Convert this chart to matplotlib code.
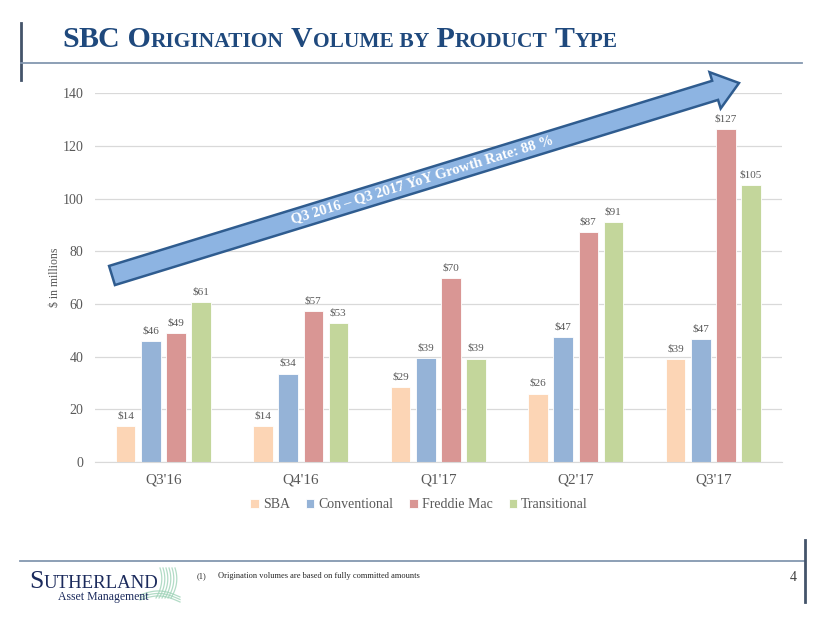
import numpy as np
import matplotlib
matplotlib.use("Agg")
import matplotlib.pyplot as plt
from matplotlib.patches import Polygon

# data
quarters = ["Q3'16", "Q4'16", "Q1'17", "Q2'17", "Q3'17"]
products = ["SBA", "Conventional", "Freddie Mac", "Transitional"]
sba = [13.6, 13.7, 28.6, 26.0, 39.0]
conventional = [45.9, 33.6, 39.4, 47.4, 46.7]
freddie_mac = [48.8, 57.4, 69.7, 87.2, 126.6]
transitional = [60.7, 52.6, 39.3, 91.0, 105.1]
series = [sba, conventional, freddie_mac, transitional]
colors = ["#FCD5B5", "#95B3D7", "#D99694", "#C3D69B"]
yticks = [0, 20, 40, 60, 80, 100, 120, 140]

title_parts = [("S", 21.5), ("BC", 21.5), (" O", 21.5), ("RIGINATION", 15.5),
               (" V", 21.5), ("OLUME", 15.5), (" BY", 15.5), (" P", 21.5),
               ("RODUCT", 15.5), (" T", 21.5), ("YPE", 15.5)]
arrow_text = "Q3 2016 \u2013 Q3 2017 YoY Growth Rate: 88 %"
footnote = "Origination volumes are based on fully committed amounts"

serif = "Liberation Serif"
gray = "#595959"
navy = "#1F497D"

fig = plt.figure(figsize=(8.3, 6.23), dpi=100)
ax = fig.add_axes([94.5 / 830, 1 - 462 / 623, (782 - 94.5) / 830, (462 - 93.3) / 623])

x = np.arange(len(quarters))
pitch = 0.182
width = 0.142
for i, (vals, name, c) in enumerate(zip(series, products, colors)):
    bars = ax.bar(x + (i - 1.5) * pitch, vals, width, color=c, label=name,
                  edgecolor="white", linewidth=0.6, zorder=2)
    ax.bar_label(bars, labels=["$%.0f" % v for v in vals], padding=4,
                 fontsize=8, color=gray, family=serif)

ax.set_xlim(-0.5, len(quarters) - 0.5)
ax.set_ylim(0, 140)
ax.set_yticks(yticks)
ax.set_xticks(x)
ax.set_xticklabels(quarters, fontsize=11, color=gray, family=serif)
ax.tick_params(axis="x", length=0, pad=8)
ax.tick_params(axis="y", length=0, pad=8, labelsize=10, labelcolor=gray)
for lab in ax.get_yticklabels():
    lab.set_family(serif)
ax.grid(axis="y", color="#D9D9D9", linewidth=0.9, zorder=0)
for s in ["top", "right", "left"]:
    ax.spines[s].set_visible(False)
ax.spines["bottom"].set_color("#D9D9D9")
ax.set_ylabel("$ in millions", fontsize=8.5, color=gray, family=serif, labelpad=1)

leg = fig.legend(loc="center", bbox_to_anchor=(0.505, 1 - 505 / 623), ncol=4,
                 frameon=False, prop={"family": serif, "size": 10},
                 handlelength=0.6, handleheight=0.6, handletextpad=0.3,
                 columnspacing=1.15, labelcolor=gray)

# overlay in pixel coordinates for the slide decorations
ov = fig.add_axes([0, 0, 1, 1], zorder=5)
ov.set_xlim(0, 830)
ov.set_ylim(623, 0)
ov.axis("off")
ov.patch.set_alpha(0)

# frame lines
ov.plot([21, 21], [23, 80], color="#44546A", lw=2)
ov.plot([21, 802], [63, 63], color="#8497B0", lw=1.3)
ov.plot([20, 805], [561, 561], color="#8497B0", lw=1.3)
ov.plot([805, 805], [540, 602], color="#44546A", lw=2)

# title in small caps
fig.canvas.draw()
renderer = fig.canvas.get_renderer()
tx = 62
for txt, size in title_parts:
    t = ov.text(tx, 47, txt, fontsize=size, fontweight="bold", color=navy,
                family=serif, va="baseline", ha="left")
    tx += t.get_window_extent(renderer).width

# growth arrow
tail = np.array([112.0, 275.5])
tip = np.array([739.0, 83.0])
u = (tip - tail) / np.linalg.norm(tip - tail)
n = np.array([u[1], -u[0]])
hw, hh, hl = 10, 19, 25
base = tip - u * hl
pts = [tail + n * hw, base + n * hw, base + n * hh, tip,
       base - n * hh, base - n * hw, tail - n * hw]
ov.add_patch(Polygon(pts, closed=True, facecolor="#8DB4E2",
                     edgecolor="#2F5C8F", lw=1.8, zorder=3))
mid = tail + u * 325
ang = np.degrees(np.arctan2(-(tip[1] - tail[1]), tip[0] - tail[0]))
ov.text(mid[0], mid[1], arrow_text, rotation=ang, rotation_mode="anchor",
        ha="center", va="center", fontsize=10.5, fontweight="bold",
        color="white", family=serif, zorder=4)

# logo
lx = 29
t = ov.text(lx, 588, "S", fontsize=18.5, color="#1B2A5C", family=serif,
            va="baseline")
lx += t.get_window_extent(renderer).width
ov.text(lx, 588, "UTHERLAND", fontsize=13.5, color="#1B2A5C", family=serif,
        va="baseline")
ov.text(58, 600, "Asset Management", fontsize=8.5, color="#1B2A5C",
        family=serif, va="baseline")
for k in range(6):
    xs = np.linspace(0, 1, 30)
    ov.plot(160 + k * 3 + xs * 10 - xs ** 2 * 14, 568 + xs * 30,
            color="#9FD3B8", lw=0.9, alpha=0.8)
for k in range(3):
    xs = np.linspace(0, 1, 30)
    ov.plot(140 + xs * 40, 600 - k * 2.5 - np.sin(xs * np.pi) * 5 + xs * 2,
            color="#9FD3B8", lw=0.9, alpha=0.8)

# footnote and page number
ov.text(197, 578, "(1)", fontsize=6, color="#262626", family=serif, va="baseline")
ov.text(218, 578, footnote, fontsize=6, color="#262626", family=serif,
        va="baseline")
ov.text(797, 581, "4", fontsize=10, color="#404040", family=serif,
        va="baseline", ha="right")

fig.savefig("out.png", dpi=100)
